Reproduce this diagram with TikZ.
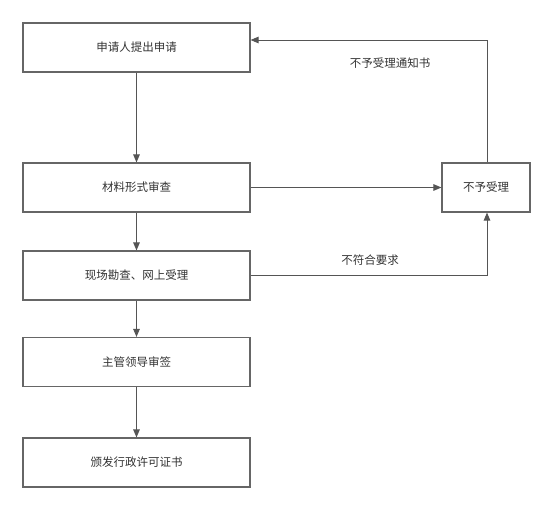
\documentclass[tikz,border=0pt]{standalone}
\usepackage{fontspec}
\setmainfont{Noto Sans CJK SC}
\usetikzlibrary{arrows.meta}
\definecolor{edgegray}{HTML}{555555}
\definecolor{boxgray}{HTML}{666666}
\definecolor{txtgray}{HTML}{333333}
\begin{document}
\begin{tikzpicture}[x=1pt,y=-1pt,
  box/.style={draw=boxgray,line width=1.1pt,fill=white,minimum width=227pt,minimum height=49pt,inner sep=0pt,text=txtgray,font=\fontsize{11.5}{13}\selectfont},
  smallbox/.style={box,minimum width=88pt},
  conn/.style={draw=edgegray,line width=1pt,-{Triangle[length=8pt,width=6.5pt]}},
  lbl/.style={text=txtgray,font=\fontsize{11.5}{13}\selectfont,inner sep=0pt}]
\useasboundingbox (0,0) rectangle (554,512);
\node[box] (a) at (136.5,47.5) {申请人提出申请};
\node[box] (b) at (136.5,187.5) {材料形式审查};
\node[box] (c) at (136.5,275.5) {现场勘查、网上受理};
\node[box] (d) at (136.5,362) {主管领导审签};
\node[box] (e) at (136.5,462.5) {颁发行政许可证书};
\node[smallbox] (f) at (486,187.5) {不予受理};
\coordinate (ftop) at (487,40);
\coordinate (fbot) at (487,275.5);
\draw[conn] (a) -- (b);
\draw[conn] (b) -- (c);
\draw[conn] (c) -- (d);
\draw[conn] (d) -- (e);
\draw[conn] (b) -- (f);
\draw[conn] (f.north -| ftop) -- (ftop) -- (ftop -| a.east);
\draw[conn] (c.east) -- (fbot) -- (fbot |- f.south);
\node[lbl] (l1) at (390,63) {不予受理通知书};
\node[lbl] (l2) at (370,260) {不符合要求};
\end{tikzpicture}
\end{document}
